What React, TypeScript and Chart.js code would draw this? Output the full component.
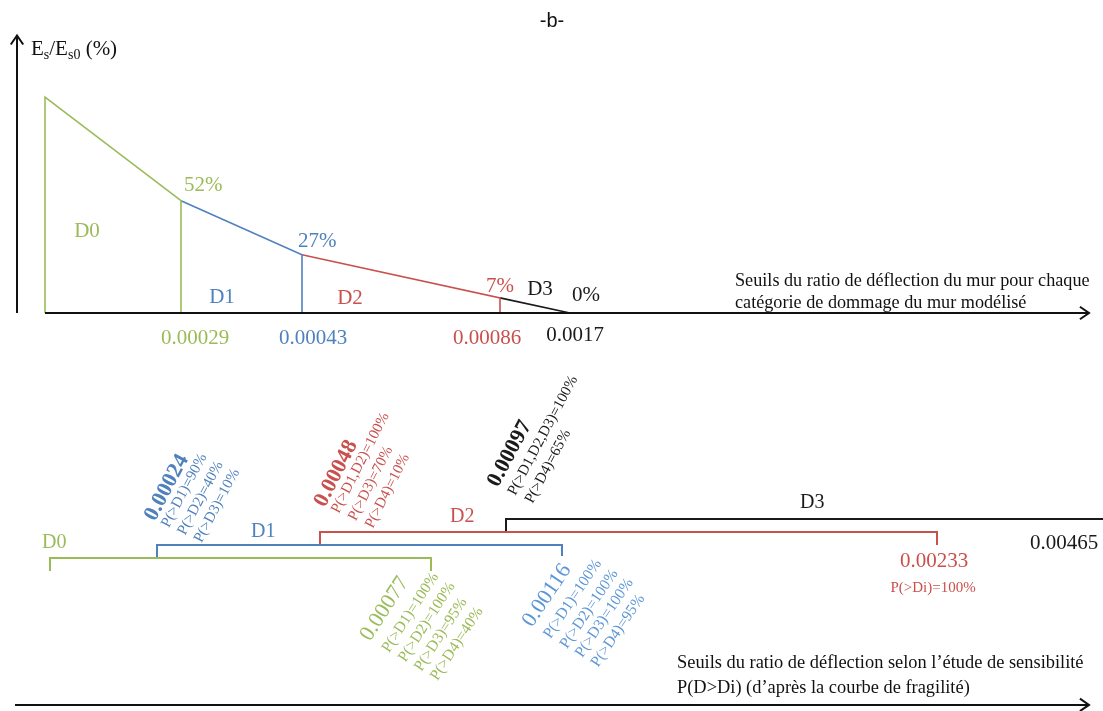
import React, { useEffect, useRef } from "react";
import { Chart, registerables } from "chart.js";

Chart.register(...registerables);

// ---------------- DATA ----------------
const chartTitle = "-b-";

// Top diagram: wall deflection-ratio thresholds of the modelled wall
const topCategories = ["D0", "D1", "D2", "D3"];
const topThresholds = ["0", "0.00029", "0.00043", "0.00086", "0.0017"];
const topRatio = [100, 52, 27, 7, 0]; // Es/Es0 (%)
const topRatioLabels = ["", "52%", "27%", "7%", "0%"];
const topAxisTitle = ["Seuils du ratio de déflection du mur pour chaque", "catégorie de dommage du mur modélisé"];

// Bottom diagram: thresholds from the sensitivity study (fragility curve)
const bottomCategories = ["D0", "D1", "D2", "D3"];
const bottomStart = ["0", "0.00024", "0.00048", "0.00097"];
const bottomEnd = ["0.00077", "0.00116", "0.00233", "0.00465"];
const bottomStartProbs = [
  [],
  ["P(>D1)=90%", "P(>D2)=40%", "P(>D3)=10%"],
  ["P(>D1,D2)=100%", "P(>D3)=70%", "P(>D4)=10%"],
  ["P(>D1,D2,D3)=100%", "P(>D4)=65%"],
];
const bottomEndProbs = [
  ["P(>D1)=100%", "P(>D2)=100%", "P(>D3)=95%", "P(>D4)=40%"],
  ["P(>D1)=100%", "P(>D2)=100%", "P(>D3)=100%", "P(>D4)=95%"],
  ["P(>Di)=100%"],
  [],
];
const bottomAxisTitle = ["Seuils du ratio de déflection selon l’étude de sensibilité", "P(D>Di) (d’après la courbe de fragilité)"];

// ---------------- LAYOUT (schematic, non-proportional axis) ----------------
const W = 1103;
const H = 711;
const topPos = [45, 181, 302, 500, 570];
const bottomStartPos = [50, 157, 320, 506];
const bottomEndPos = [431, 562, 937, 1118];

const GREEN = "#9BBB59";
const BLUE = "#4F81BD";
const LBLUE = "#5E97D6";
const RED = "#C9504D";
const BLACK = "#1a1a1a";
const catColors = [GREEN, BLUE, RED, BLACK];
const endColors = [GREEN, LBLUE, RED, BLACK];
const SERIF = "'Liberation Serif', 'Times New Roman', serif";

// y scale of the top diagram: 2.16 px per %, 0 % at pixel 313
const yTopMax = 313 / 2.16;
const yTopMin = (313 - H) / 2.16;
// y scale of bottom brackets: 13 px per level, level 0 at pixel 558
const yBotMax = 558 / 13;
const yBotMin = (558 - H) / 13;

function buildDatasets() {
  const ds: any[] = [];
  for (let i = 0; i < topCategories.length; i++) {
    const pts: any[] = [];
    if (i === 0) pts.push({ x: topPos[0], y: 0 });
    pts.push({ x: topPos[i], y: topRatio[i] });
    pts.push({ x: topPos[i + 1], y: topRatio[i + 1] });
    pts.push({ x: topPos[i + 1], y: 0 });
    ds.push({
      data: pts,
      yAxisID: "yTop",
      borderColor: catColors[i],
      borderWidth: 1.6,
      pointRadius: 0,
      tension: 0,
      fill: false,
    });
  }
  for (let i = 0; i < bottomCategories.length; i++) {
    const L = i;
    ds.push({
      data: [
        { x: bottomStartPos[i], y: L - 1 },
        { x: bottomStartPos[i], y: L },
        { x: bottomEndPos[i], y: L },
        { x: bottomEndPos[i], y: L - (i === 1 ? 0.85 : 1) },
      ],
      yAxisID: "yBot",
      borderColor: catColors[i],
      borderWidth: 2,
      pointRadius: 0,
      tension: 0,
      fill: false,
    });
  }
  return ds;
}

function drawArrowLine(ctx: CanvasRenderingContext2D, x1: number, y1: number, x2: number, y2: number) {
  ctx.beginPath();
  ctx.moveTo(x1, y1);
  ctx.lineTo(x2, y2);
  ctx.stroke();
  const a = Math.atan2(y2 - y1, x2 - x1);
  const s = 11;
  ctx.beginPath();
  ctx.moveTo(x2 - s * Math.cos(a - 0.6), y2 - s * Math.sin(a - 0.6));
  ctx.lineTo(x2, y2);
  ctx.lineTo(x2 - s * Math.cos(a + 0.6), y2 - s * Math.sin(a + 0.6));
  ctx.stroke();
}

function text(ctx: CanvasRenderingContext2D, s: string, x: number, y: number, font: string, color: string, align: CanvasTextAlign = "left") {
  ctx.font = font;
  ctx.fillStyle = color;
  ctx.textAlign = align;
  ctx.textBaseline = "alphabetic";
  ctx.fillText(s, x, y);
}

function rotBlock(
  ctx: CanvasRenderingContext2D,
  ax: number,
  ay: number,
  angle: number,
  big: string,
  bigFont: string,
  lines: string[],
  smallFont: string,
  offs: number[],
  color: string
) {
  ctx.save();
  ctx.translate(ax, ay);
  ctx.rotate((angle * Math.PI) / 180);
  ctx.fillStyle = color;
  ctx.textAlign = "left";
  ctx.textBaseline = "alphabetic";
  ctx.font = bigFont;
  ctx.fillText(big, 0, 0);
  ctx.font = smallFont;
  lines.forEach((l, k) => ctx.fillText(l, k + 1, offs[k + 1]));
  ctx.restore();
}

const annotPlugin = {
  id: "annot",
  afterDatasetsDraw(chart: any) {
    const ctx: CanvasRenderingContext2D = chart.ctx;
    const sx = chart.scales.x;
    const sy = chart.scales.yTop;
    const sb = chart.scales.yBot;
    const X = (v: number) => sx.getPixelForValue(v);
    const Y = (v: number) => sy.getPixelForValue(v);
    const B = (v: number) => sb.getPixelForValue(v);
    ctx.save();

    // title
    text(ctx, chartTitle, X(552), 27, "20px 'Liberation Sans', Arial, sans-serif", "#111", "center");

    // axes of the top diagram
    ctx.strokeStyle = "#111";
    ctx.lineWidth = 2;
    drawArrowLine(ctx, X(17), Y(0), X(17), Y(128.5));
    drawArrowLine(ctx, X(topPos[0]), Y(0), X(1089), Y(0));
    // bottom axis
    drawArrowLine(ctx, X(15), B(-11.3), X(1089), B(-11.3));

    // y axis title: Es/Es0 (%)
    {
      let x = X(31);
      const y = 55;
      const f = "21px " + SERIF;
      const fs = "14px " + SERIF;
      const parts: [string, string, number][] = [
        ["E", f, 0],
        ["s", fs, 4],
        ["/E", f, 0],
        ["s0", fs, 4],
        [" (%)", f, 0],
      ];
      parts.forEach(([s, font, dy]) => {
        ctx.font = font;
        text(ctx, s, x, y + dy, font, "#111");
        x += ctx.measureText(s).width;
      });
    }

    const f21 = "21px " + SERIF;
    // category labels (top)
    const catLab = [
      [87, Y(0) - 76],
      [222, Y(0) - 10],
      [350, Y(0) - 9],
      [540, Y(0) - 18],
    ];
    topCategories.forEach((c, i) => text(ctx, c, X(catLab[i][0]), catLab[i][1], f21, catColors[i], "center"));

    // ratio labels at vertices
    const ratioOff = [
      [0, 0],
      [3, -10],
      [-4, -8],
      [-14, -6],
      [2, -12],
    ];
    const ratioCol = ["", GREEN, BLUE, RED, BLACK];
    topRatioLabels.forEach((l, i) => {
      if (!l) return;
      text(ctx, l, X(topPos[i]) + ratioOff[i][0], Y(topRatio[i]) + ratioOff[i][1], f21, ratioCol[i]);
    });

    // threshold labels below axis
    const thOff = [0, 14, 11, -13, 5];
    const thDy = [0, 31, 31, 31, 28];
    topThresholds.forEach((t, i) => {
      if (i === 0) return;
      text(ctx, t, X(topPos[i]) + thOff[i], Y(0) + thDy[i], f21, ratioCol[i], "center");
    });

    // top axis title
    const fTop = "18.2px " + SERIF;
    text(ctx, topAxisTitle[0], X(735), Y(0) - 27, fTop, "#111");
    text(ctx, topAxisTitle[1], X(735), Y(0) - 5, fTop, "#111");

    // bottom axis title
    const fBot = "18.4px " + SERIF;
    text(ctx, bottomAxisTitle[0], X(677), B(-11.3) - 37, fBot, "#111");
    text(ctx, bottomAxisTitle[1], X(677), B(-11.3) - 12, fBot, "#111");

    // bottom category labels
    const bcat = [
      [42, B(0) - 10],
      [251, B(1) - 8],
      [450, B(2) - 10],
      [800, B(3) - 11],
    ];
    bottomCategories.forEach((c, i) => text(ctx, c, X(bcat[i][0]), bcat[i][1], "20px " + SERIF, catColors[i]));

    // rotated start annotations (above brackets)
    const startCfg = [
      null,
      { dx: -2, y: 522, a: -62, offs: [0, 15, 33, 51] },
      { dx: 5, y: 508, a: -63, offs: [0, 15, 33.5, 52] },
      { dx: -8, y: 488, a: -62, offs: [0, 19, 38] },
    ];
    bottomStart.forEach((t, i) => {
      const c = startCfg[i];
      if (!c) return;
      rotBlock(ctx, X(bottomStartPos[i]) + c.dx, c.y, c.a, t, "bold 22px " + SERIF, bottomStartProbs[i], "15px " + SERIF, c.offs, catColors[i]);
    });

    // rotated end annotations (below brackets)
    const endCfg = [
      { dx: -61, y: 642, a: -57, offs: [0, 22, 41, 59.5, 78] },
      { dx: -30, y: 628, a: -56, offs: [0, 21.6, 41, 58.5, 77] },
    ];
    endCfg.forEach((c, i) => {
      rotBlock(ctx, X(bottomEndPos[i]) + c.dx, c.y, c.a, bottomEnd[i], "22px " + SERIF, bottomEndProbs[i], "15.5px " + SERIF, c.offs, endColors[i]);
    });
    // D2 end: horizontal labels
    text(ctx, bottomEnd[2], X(bottomEndPos[2]) - 3, 567, f21, RED, "center");
    text(ctx, bottomEndProbs[2][0], X(bottomEndPos[2]) - 4, 592, "15px " + SERIF, RED, "center");
    // D3 end (off-scale, shown at right edge)
    text(ctx, bottomEnd[3], X(1030), 549, f21, BLACK);

    ctx.restore();
  },
};

export default function App() {
  const ref = useRef<HTMLCanvasElement | null>(null);
  useEffect(() => {
    if (!ref.current) return;
    const chart = new Chart(ref.current, {
      type: "line",
      data: { datasets: buildDatasets() },
      options: {
        animation: false,
        responsive: false,
        devicePixelRatio: 1,
        layout: { padding: 0 },
        plugins: { legend: { display: false }, tooltip: { enabled: false }, title: { display: false } },
        scales: {
          x: { type: "linear", min: 0, max: W, display: false },
          yTop: { type: "linear", min: yTopMin, max: yTopMax, display: false },
          yBot: { type: "linear", min: yBotMin, max: yBotMax, display: false },
        },
      },
      plugins: [annotPlugin],
    });
    return () => chart.destroy();
  }, []);
  return (
    <div style={{ position: "absolute", left: 0, top: 0, width: W, height: H, background: "#fff" }}>
      <canvas ref={ref} width={W} height={H} style={{ width: W, height: H, display: "block" }} />
    </div>
  );
}
